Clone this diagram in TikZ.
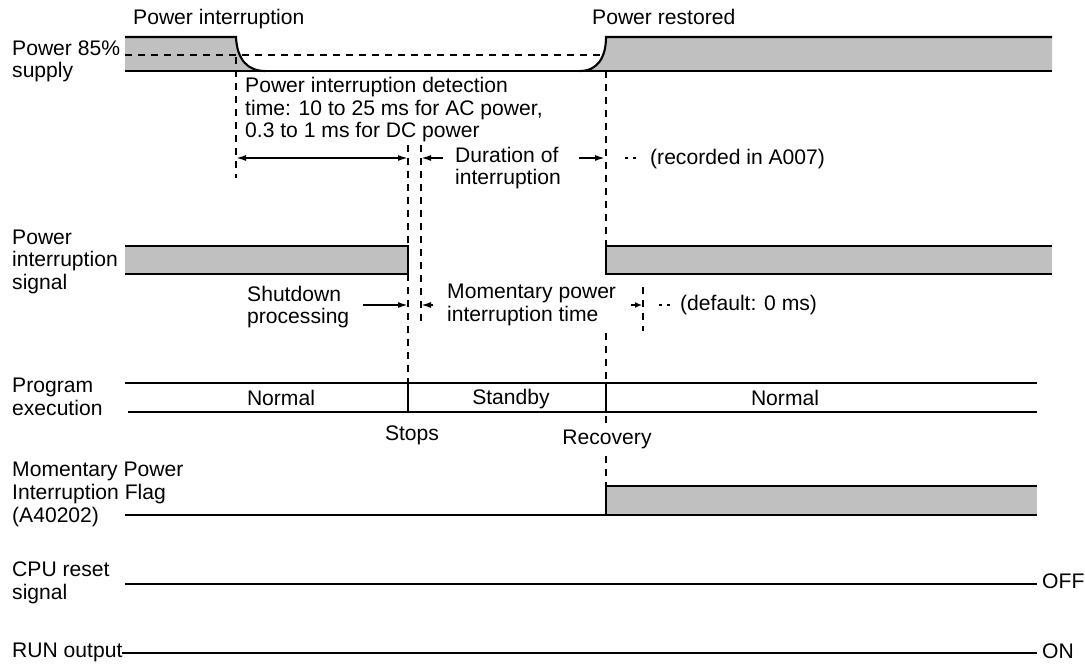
\documentclass[tikz,border=0pt]{standalone}
\usepackage{fontspec}
\setmainfont{Liberation Sans}
\usetikzlibrary{arrows.meta}
\definecolor{sg}{RGB}{192,192,192}
\begin{document}
\begin{tikzpicture}[x=1pt,y=-1pt,
  lbl/.style={anchor=base west,inner sep=0pt,align=left,font=\fontsize{21.1}{22.7}\selectfont},
  ctr/.style={anchor=base,inner sep=0pt,font=\fontsize{21.1}{22.7}\selectfont},
  sig/.style={line width=2.1pt},
  vdash/.style={line width=1.9pt,dash pattern=on 7pt off 6pt},
  dim/.style={line width=1.7pt,-{Latex[length=10pt,width=6pt]}},
  dimb/.style={line width=1.7pt,{Latex[length=10pt,width=6pt]}-{Latex[length=10pt,width=6pt]}},
  dots/.style={line width=1.5pt,dash pattern=on 3pt off 5pt},
]
\useasboundingbox (0,0) rectangle (1085,664);
\fill[white] (0,0) rectangle (1085,664);

% ---------- Power supply ----------
\fill[sg] (125,37) -- (236,37) .. controls (237,60) and (248,71) .. (265,71) -- (125,71) -- cycle;
\fill[sg] (580,71) .. controls (597,71) and (606,58) .. (606,37) -- (1052,37) -- (1052,71) -- cycle;
\draw[sig] (125,37) -- (236,37) .. controls (237,60) and (248,71) .. (265,71);
\draw[sig] (125,71) -- (1052,71);
\draw[sig] (580,71) .. controls (597,71) and (606,58) .. (606,37) -- (1052,37);
\draw[vdash] (125,55) -- (603,55);

% ---------- Power interruption signal ----------
\fill[sg] (125,246) rectangle (408,274);
\draw[sig] (125,246) -- (408,246) -- (408,274) -- (125,274);
\fill[sg] (606,246) rectangle (1052,274);
\draw[sig] (1052,246) -- (606,246) -- (606,274) -- (1052,274);

% ---------- Program execution ----------
\draw[sig] (125,383) -- (1037,383);
\draw[sig] (128,412) -- (1037,412);
\draw[sig] (408,383) -- (408,412);
\draw[sig] (606,383) -- (606,412);

% ---------- Momentary Power Interruption Flag ----------
\fill[sg] (606,486) rectangle (1037,515);
\draw[sig] (125,515) -- (606,515) -- (606,486) -- (1037,486);
\draw[sig] (606,515) -- (1037,515);

% ---------- CPU reset / RUN ----------
\draw[sig] (125,584) -- (1037,584);
\draw[sig] (122,653) -- (1037,653);

% ---------- vertical dashed guides ----------
\draw[vdash] (236,57) -- (236,178);
\draw[vdash] (408,145) -- (408,246);
\draw[vdash] (408,274) -- (408,383);
\draw[vdash] (421,145) -- (421,325);
\draw[vdash] (606,71) -- (606,246);
\draw[vdash] (606,333) -- (606,383);
\draw[vdash] (606,416) -- (606,426);
\draw[vdash] (606,456) -- (606,486);
\draw[vdash] (643,287) -- (643,331);

% ---------- coordinates for dimension arrows ----------
\coordinate (d1) at (236,158);
\coordinate (d2) at (408,158);
\coordinate (d3a) at (443,158);
\coordinate (d3) at (421,158);
\coordinate (d4a) at (579,158);
\coordinate (d4) at (605,158);
\coordinate (s1a) at (363,305);
\coordinate (s1) at (408,305);
\coordinate (s2a) at (433,305);
\coordinate (s2) at (421,305);
\coordinate (m1a) at (631,305);
\coordinate (m1) at (642,305);

\draw[dimb] (d1) -- (d2);
\draw[dim] (d3a) -- (d3);
\draw[dim] (d4a) -- (d4);
\draw[dim] (s1a) -- (s1);
\draw[dim] (s2a) -- (s2);
\draw[line width=1.7pt,-{Latex[length=7pt,width=6pt]}] (m1a) -- (m1);
\draw[dots] (625,158) -- (639,158);
\draw[dots] (659,305) -- (672,305);

% ---------- texts (multi-line nodes: base = last line) ----------
\node[lbl] (tpi) at (133,24) {Power interruption};
\node[lbl] (tpr) at (592,24) {Power restored};
\node[lbl] (lps) at (12,77.7) {Power 85\%\\supply};
\node[lbl] (tdet) at (245,137.7) {Power interruption detection\\time: 10 to 25 ms for AC power,\\0.3 to 1 ms for DC power};
\node[lbl] (tdur) at (455,184.7) {Duration of\\interruption};
\node[lbl] (trec) at (650,164) {(recorded in A007)};
\node[lbl] (lpis) at (12,289.4) {Power\\interruption\\signal};
\node[lbl] (tshut) at (247,323.7) {Shutdown\\processing};
\node[lbl] (tmom) at (447,321.5) {Momentary power\\interruption time};
\node[lbl] (tdef) at (680,310) {(default: 0 ms)};
\node[lbl] (lpe) at (12,415.4) {Program\\execution};
\node[ctr] (n1) at (281,405) {Normal};
\node[ctr] (sb) at (511,404) {Standby};
\node[ctr] (n2) at (785,405) {Normal};
\node[ctr] (stp) at (412,440) {Stops};
\node[ctr] (rec) at (607,444) {Recovery};
\node[lbl] (lmf) at (12,522.1) {Momentary Power\\Interruption Flag\\(A40202)};
\node[lbl] (lcpu) at (12,599.4) {CPU reset\\signal};
\node[lbl] (lrun) at (12,657.7) {RUN output};
\node[lbl] (toff) at (1042,588.3) {OFF};
\node[lbl] (ton) at (1042,658.3) {ON};
\end{tikzpicture}
\end{document}
